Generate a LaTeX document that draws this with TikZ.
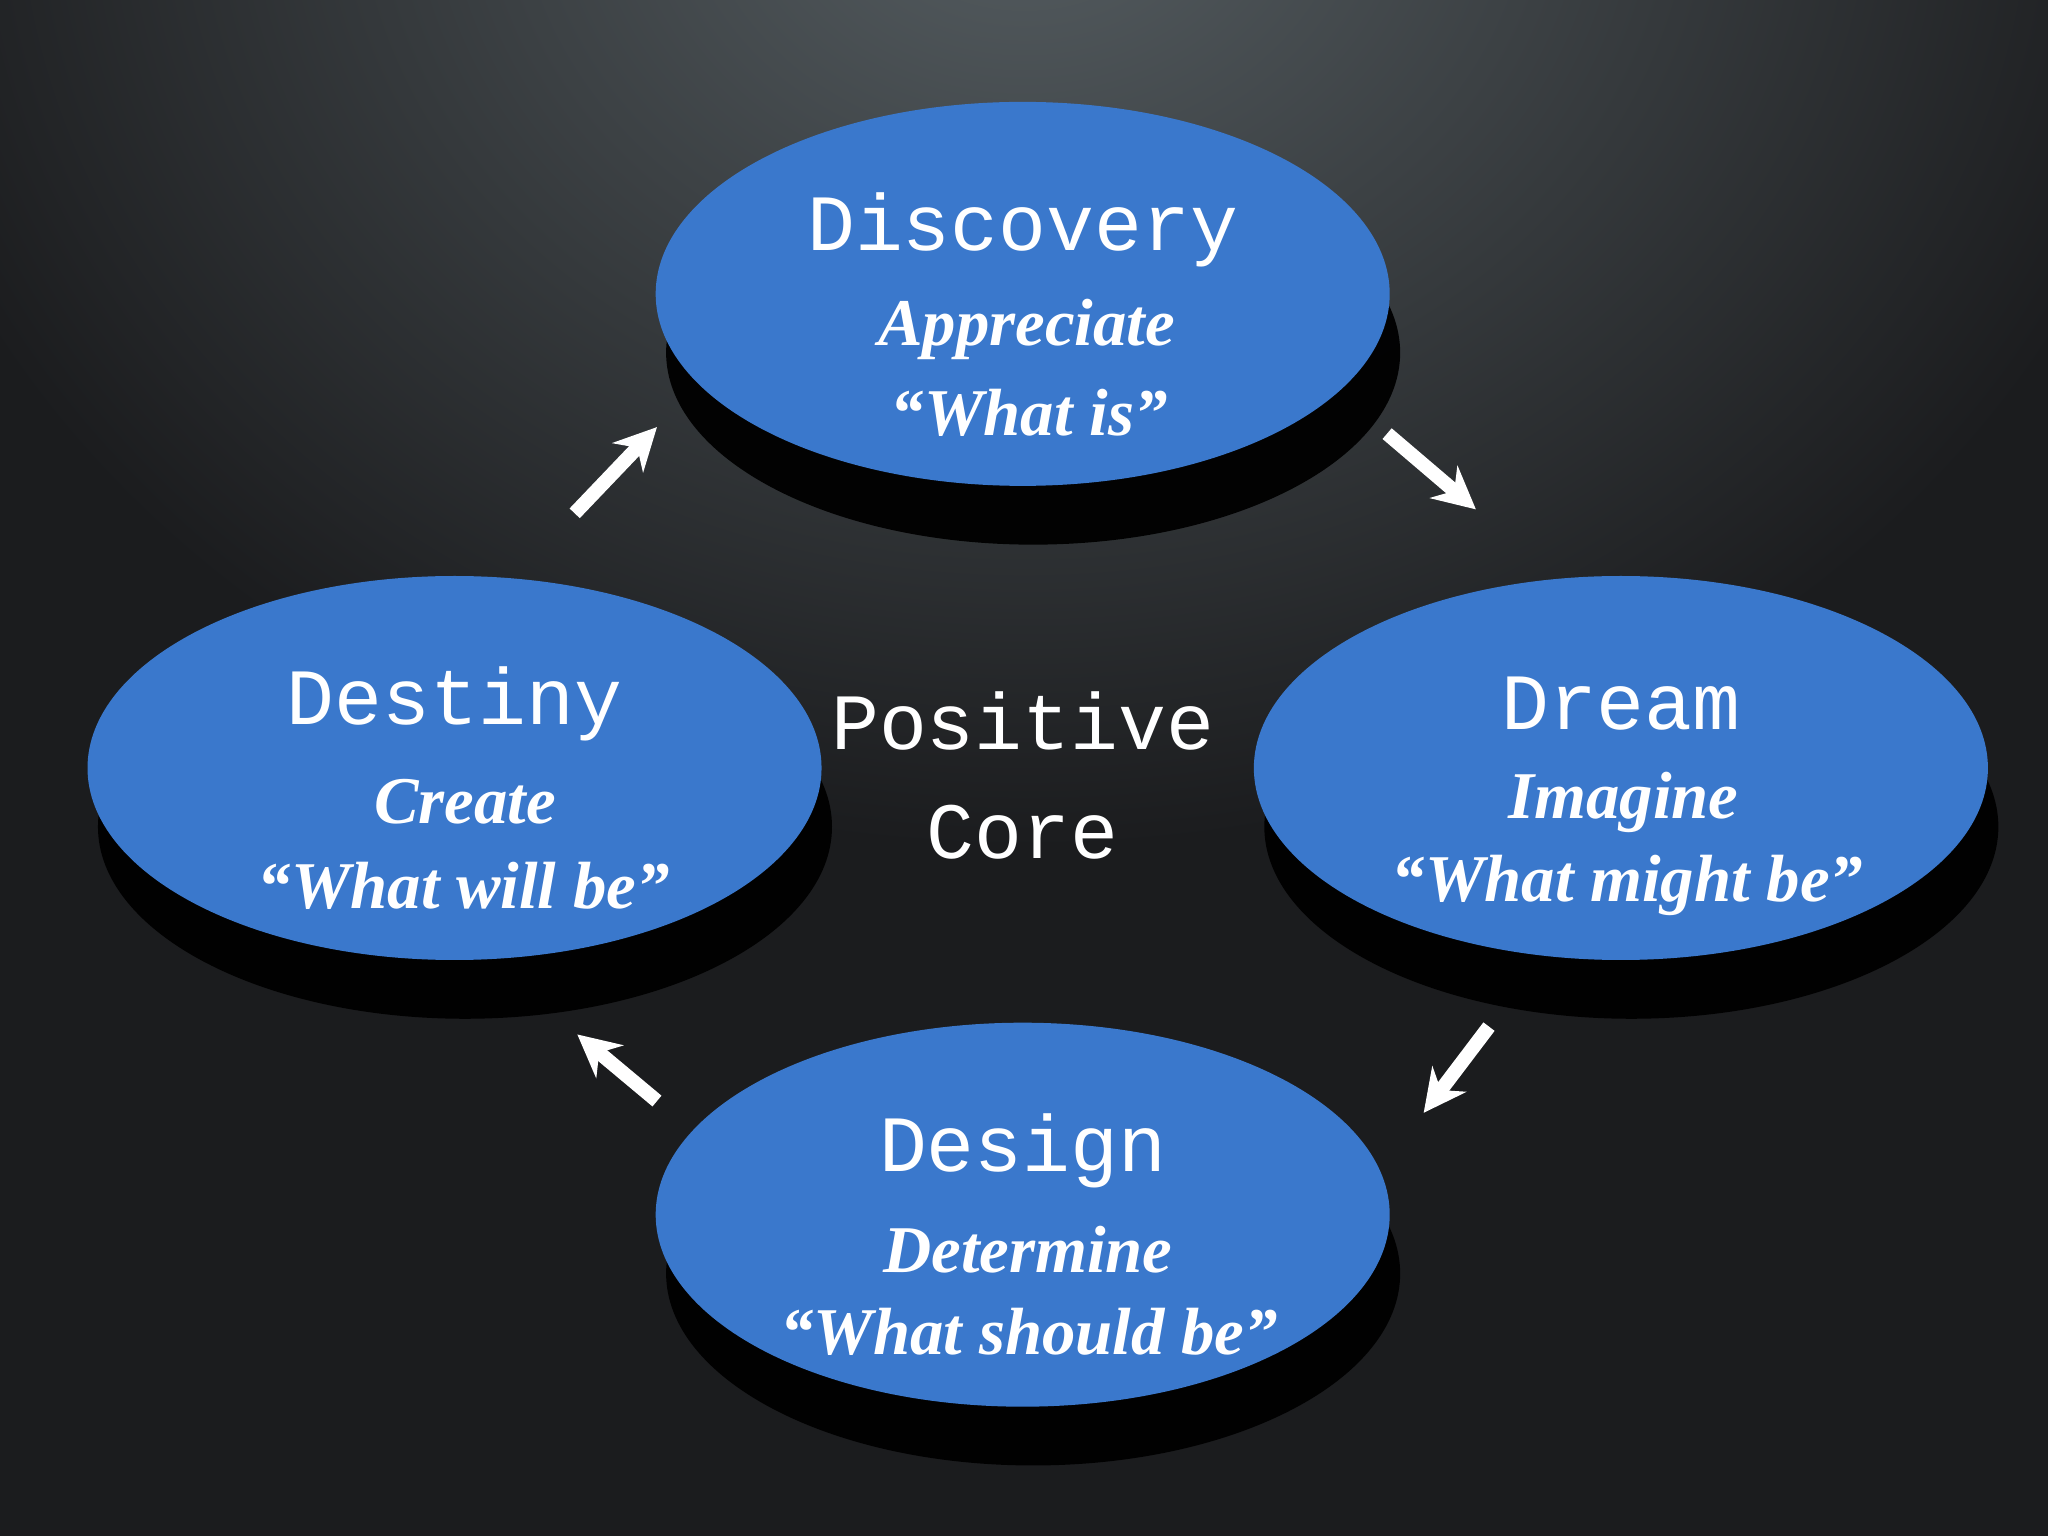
\documentclass[tikz,border=0pt]{standalone}
\usepackage{fontspec}
\setmonofont{Liberation Mono}
\newfontfamily\scriptf{Liberation Serif}
\usetikzlibrary{arrows.meta}
\definecolor{bg}{HTML}{1B1C1E}
\definecolor{blob}{HTML}{3A78CC}
\definecolor{glow}{HTML}{565E62}
\tikzset{
  ttl/.style={text=white, font=\ttfamily\fontsize{22.7}{27}\selectfont},
  sub/.style={text=white, font=\scriptf\bfseries\itshape\fontsize{19}{22}\selectfont},
  flow/.style={draw=white, line width=4pt, -{Stealth[length=12pt,width=12pt]}}
}
\begin{document}
\begin{tikzpicture}[x=0.013061cm,y=-0.013061cm]
\useasboundingbox (0,0) rectangle (1568,1176);
\fill[bg] (0,0) rectangle (1568,1176);
\begin{scope}
\clip (0,0) rectangle (1568,1176);
\shade[inner color=glow, outer color=bg] (784,-100) ellipse (900 and 750);
\end{scope}
\foreach \x/\y in {783/225,1241/588,348/588,783/930}{
  \fill[black,opacity=0.95] (\x+8,\y+45) ellipse (281 and 147);
}
\fill[blob] (783,225) ellipse (281 and 147);
\fill[blob] (1241,588) ellipse (281 and 147);
\fill[blob] (348,588) ellipse (281 and 147);
\fill[blob] (783,930) ellipse (281 and 147);
\node[ttl] (t1) at (783,176) {Discovery};
\node[sub] (s1) at (786,252) {Appreciate};
\node[sub] (q1) at (788,316) {“What is”};
\node[ttl] (t2) at (1241,539) {Dream};
\node[sub] (s2) at (1243,614) {Imagine};
\node[sub] (q2) at (1246,678) {“What might be”};
\node[ttl] (t3) at (348,539) {Destiny};
\node[sub] (s3) at (356,614) {Create};
\node[sub] (q3) at (355,678) {“What will be”};
\node[ttl] (t4) at (783,881) {Design};
\node[sub] (s4) at (787,957) {Determine};
\node[sub] (q4) at (788,1020) {“What should be”};
\node[ttl,align=center] (core) at (783,594) {Positive\\[4pt]Core};
\coordinate (a1) at (1062,332); \coordinate (a2) at (1130,390);
\coordinate (b1) at (1140,786); \coordinate (b2) at (1090,852);
\coordinate (c1) at (503,843); \coordinate (c2) at (442,792);
\coordinate (d1) at (440,393); \coordinate (d2) at (503,327);
\draw[flow] (a1) -- (a2);
\draw[flow] (b1) -- (b2);
\draw[flow] (c1) -- (c2);
\draw[flow] (d1) -- (d2);
\end{tikzpicture}
\end{document}
